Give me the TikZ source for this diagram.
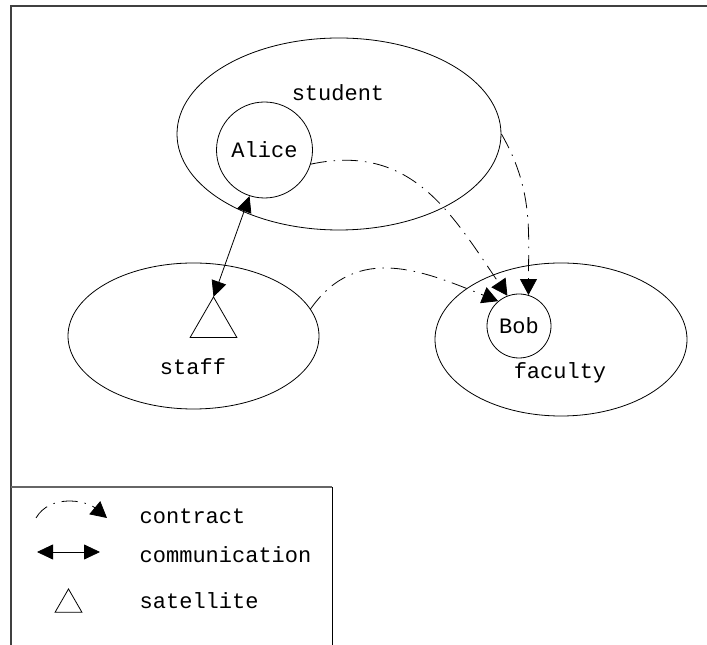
\documentclass[tikz,border=0pt]{standalone}
\usepackage{fontspec}
\setmonofont{Liberation Mono}
\usetikzlibrary{arrows.meta,shapes.geometric}

\begin{document}
\begin{tikzpicture}[x=1pt,y=1pt,line width=0.8pt,
    font=\ttfamily\fontsize{22}{26}\selectfont,
    contract/.style={-{Triangle[length=16pt,width=17pt]},dash pattern=on 16pt off 7pt on 1.5pt off 7pt},
    comm/.style={{Triangle[length=16pt,width=15pt]}-{Triangle[length=16pt,width=15pt]}}]
    \useasboundingbox (0,0) rectangle (707,645);
    % frame and legend box
    \draw[black!75,line width=1.4pt] (11,0) -- (11,639) -- (707,639);
    \draw[black!60,line width=1.4pt] (11,158) -- (332,158);
    \draw (332,158) -- (332,0);
    % groups
    \begin{scope}[every node/.style={ellipse,draw,inner sep=0pt}]
      \node (student) at (339,511) [minimum width=324pt,minimum height=192pt] {};
      \node (staff) at (193.5,309) [minimum width=251pt,minimum height=146pt] {};
      \node (faculty) at (561,305.5) [minimum width=252pt,minimum height=153pt] {};
    \end{scope}
    \node (studentlbl) at (338,552) {student};
    \node (stafflbl) at (193,278) {staff};
    \node (facultylbl) at (560,272) {faculty};
    % members
    \begin{scope}[every node/.style={circle,draw,inner sep=0pt}]
      \node (alice) at (264.5,495) [minimum size=96pt] {Alice};
      \node (bob) at (519,319) [minimum size=64pt] {Bob};
    \end{scope}
    \node (sat) at (213.5,321) [regular polygon,regular polygon sides=3,draw,inner sep=0pt,outer sep=0pt,minimum size=54pt] {};
    % links
    \path (alice.343) edge[contract,out=12,in=124,looseness=1.1] (bob.111);
    \path (student.east) edge[contract,out=-60,in=90] (bob.73);
    \path (staff.13) edge[contract,out=55,in=158,looseness=1.1] (bob.130);
    \path (alice.252) edge[comm] (sat.north);
    % legend
    \coordinate (ka) at (36,127);
    \coordinate (kb) at (107,127);
    \coordinate (kc) at (37,93);
    \coordinate (kd) at (100,93);
    \path (ka) edge[contract,out=60,in=140] (kb);
    \path (kc) edge[comm] (kd);
    \node (keysat) at (68.5,40.5) [regular polygon,regular polygon sides=3,draw,inner sep=0pt,outer sep=0pt,minimum size=31pt] {};
    \begin{scope}[every node/.style={anchor=west}]
      \node (keycontract) at (136,129) {contract};
      \node (keycomm) at (136,90) {communication};
      \node (keysatlbl) at (136,44) {satellite};
    \end{scope}
\end{tikzpicture}
\end{document}
